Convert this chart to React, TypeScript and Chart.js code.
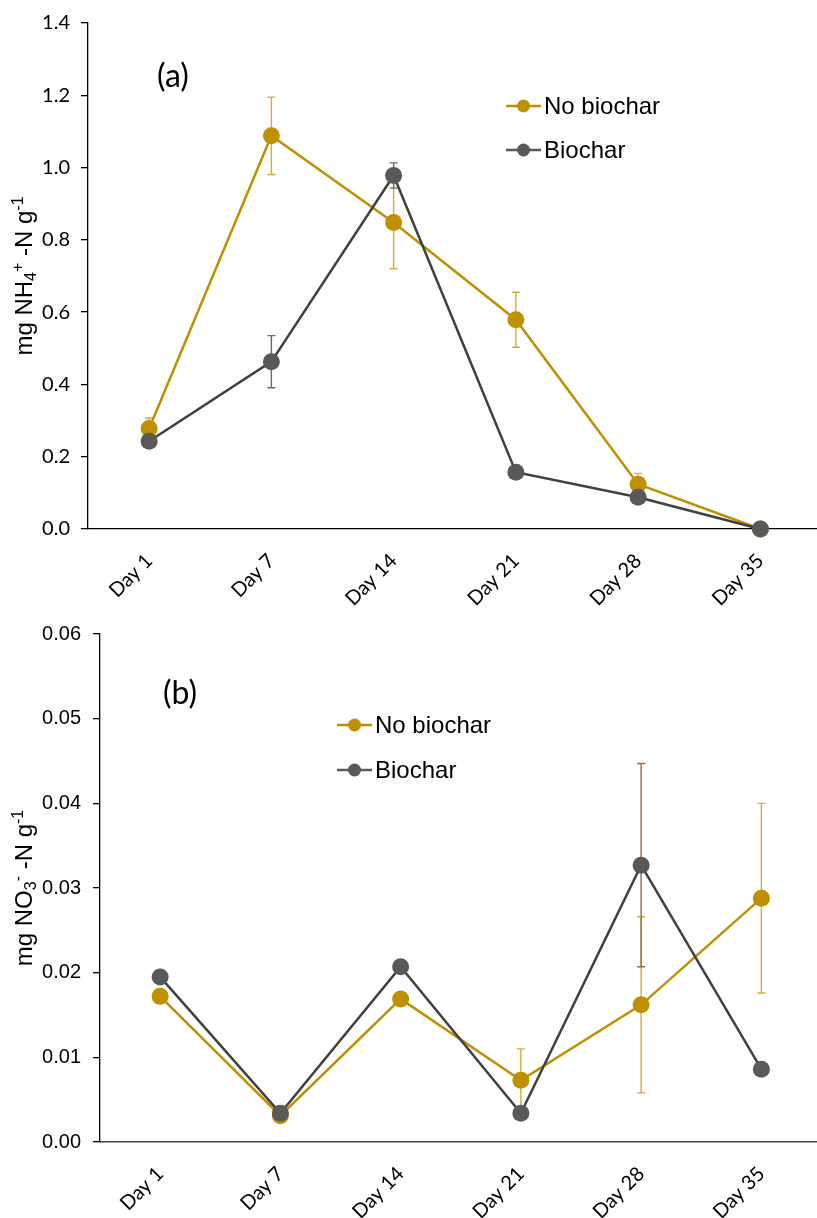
import React, { useEffect, useRef } from 'react';
import { Chart, registerables } from 'chart.js';

Chart.register(...registerables);

// Sampling days shared by both panels
const days = ['Day 1', 'Day 7', 'Day 14', 'Day 21', 'Day 28', 'Day 35'];

// Panel (a): ammonium, mg NH4+-N per g
const nh4NoBiochar = [0.278, 1.088, 0.848, 0.579, 0.124, 0.0];
const nh4NoBiocharErr = [0.029, 0.107, 0.128, 0.076, 0.03, 0];
const nh4Biochar = [0.243, 0.463, 0.978, 0.157, 0.088, 0.0];
const nh4BiocharErr = [0, 0.072, 0.035, 0, 0, 0];
const nh4Ticks = [0, 0.2, 0.4, 0.6, 0.8, 1.0, 1.2, 1.4];

// Panel (b): nitrate, mg NO3--N per g
const no3NoBiochar = [0.0172, 0.0031, 0.0169, 0.0073, 0.0162, 0.0288];
const no3NoBiocharErr = [0, 0, 0, 0.0037, 0.0104, 0.0112];
const no3Biochar = [0.0195, 0.0034, 0.0207, 0.0034, 0.0327, 0.0086];
const no3BiocharErr = [0, 0, 0, 0, 0.012, 0];
const no3Ticks = [0, 0.01, 0.02, 0.03, 0.04, 0.05, 0.06];

const seriesNames = ['No biochar', 'Biochar'];

const GOLD = '#BF9000';
const GOLD_ERR = '#D4AC3A';
const GREY_LINE = '#404040';
const GREY_MARK = '#595959';

type Part = { t: string; k?: 'sub' | 'sup' };

type Series = {
  label: string;
  data: number[];
  err: number[];
  line: string;
  marker: string;
  errColor: string;
};

type PanelSpec = {
  top: number;
  height: number;
  padTop: number;
  axisWidth: number;
  axisHeight: number;
  ticks: number[];
  decimals: number;
  yFont: { family: string; size: number };
  yPadding: number;
  xBorder: { color: string; width: number };
  series: Series[];
  tag: string;
  tagPos: [number, number];
  legendX: number;
  legendY: number[];
  title: Part[];
};

const panels: PanelSpec[] = [
  {
    top: 0,
    height: 610,
    padTop: 21,
    axisWidth: 88,
    axisHeight: 81,
    ticks: nh4Ticks,
    decimals: 1,
    yFont: { family: 'Lato', size: 20 },
    yPadding: 11,
    xBorder: { color: '#000000', width: 1.3 },
    series: [
      { label: seriesNames[0], data: nh4NoBiochar, err: nh4NoBiocharErr, line: GOLD, marker: GOLD, errColor: GOLD_ERR },
      { label: seriesNames[1], data: nh4Biochar, err: nh4BiocharErr, line: GREY_LINE, marker: GREY_MARK, errColor: '#5E7352' },
    ],
    tag: '(a)',
    tagPos: [173, 77],
    legendX: 506,
    legendY: [106, 150],
    title: [{ t: 'mg NH' }, { t: '4', k: 'sub' }, { t: '+', k: 'sup' }, { t: ' -N g' }, { t: '-1', k: 'sup' }],
  },
  {
    top: 610,
    height: 608,
    padTop: 23,
    axisWidth: 100,
    axisHeight: 76,
    ticks: no3Ticks,
    decimals: 2,
    yFont: { family: 'Liberation Sans', size: 20 },
    yPadding: 12,
    xBorder: { color: '#404040', width: 1.6 },
    series: [
      { label: seriesNames[0], data: no3NoBiochar, err: no3NoBiocharErr, line: GOLD, marker: GOLD, errColor: GOLD_ERR },
      { label: seriesNames[1], data: no3Biochar, err: no3BiocharErr, line: GREY_LINE, marker: GREY_MARK, errColor: '#A0673A' },
    ],
    tag: '(b)',
    tagPos: [180, 84],
    legendX: 337,
    legendY: [115, 160],
    title: [{ t: 'mg NO' }, { t: '3', k: 'sub' }, { t: '-', k: 'sup' }, { t: ' -N g' }, { t: '-1', k: 'sup' }],
  },
];

const TITLE_FONT = 'Liberation Sans';

function Panel({ spec }: { spec: PanelSpec }) {
  const ref = useRef<HTMLCanvasElement | null>(null);

  useEffect(() => {
    const canvas = ref.current;
    if (!canvas) return;

    const errorBars = {
      id: 'errorBars',
      beforeDatasetsDraw(chart: any) {
        const { ctx } = chart;
        const x = chart.scales.x;
        const y = chart.scales.y;
        ctx.save();
        spec.series.forEach((s) => {
          s.data.forEach((v, i) => {
            const e = s.err[i];
            if (!e) return;
            const px = x.getPixelForValue(i);
            const yHi = y.getPixelForValue(v + e);
            const yLo = y.getPixelForValue(v - e);
            ctx.strokeStyle = s.errColor;
            ctx.lineWidth = 1.4;
            ctx.beginPath();
            ctx.moveTo(px, yHi);
            ctx.lineTo(px, yLo);
            ctx.moveTo(px - 4, yHi);
            ctx.lineTo(px + 4, yHi);
            ctx.moveTo(px - 4, yLo);
            ctx.lineTo(px + 4, yLo);
            ctx.stroke();
          });
        });
        ctx.restore();
      },
    };

    const decorations = {
      id: 'decorations',
      afterDraw(chart: any) {
        const { ctx, chartArea } = chart;
        ctx.save();

        // panel tag
        ctx.fillStyle = '#000';
        ctx.font = '32px Lato';
        ctx.textAlign = 'center';
        ctx.textBaseline = 'middle';
        ctx.fillText(spec.tag, spec.tagPos[0], spec.tagPos[1]);

        // legend
        ctx.textAlign = 'left';
        ctx.font = `24px "${TITLE_FONT}"`;
        spec.series.forEach((s, i) => {
          const ly = spec.legendY[i];
          const lx = spec.legendX;
          ctx.strokeStyle = s.line === GREY_LINE ? GREY_MARK : s.line;
          ctx.lineWidth = 2.5;
          ctx.beginPath();
          ctx.moveTo(lx, ly);
          ctx.lineTo(lx + 35, ly);
          ctx.stroke();
          ctx.fillStyle = s.marker;
          ctx.beginPath();
          ctx.arc(lx + 17.5, ly, 6.5, 0, Math.PI * 2);
          ctx.fill();
          ctx.fillStyle = '#000';
          ctx.fillText(s.label, lx + 38, ly + 1);
        });

        // rotated y-axis title with sub/superscripts
        const size = 24;
        const small = Math.round(size * 0.65);
        const fontFor = (p: Part) => `${p.k ? small : size}px "${TITLE_FONT}"`;
        let total = 0;
        spec.title.forEach((p) => {
          ctx.font = fontFor(p);
          total += ctx.measureText(p.t).width;
        });
        const cy = (chartArea.top + chartArea.bottom) / 2;
        ctx.translate(32, cy);
        ctx.rotate(-Math.PI / 2);
        ctx.textBaseline = 'alphabetic';
        ctx.textAlign = 'left';
        let cx = -total / 2;
        spec.title.forEach((p) => {
          ctx.font = fontFor(p);
          const dy = p.k === 'sub' ? size * 0.18 : p.k === 'sup' ? -size * 0.38 : 0;
          ctx.fillText(p.t, cx, dy);
          cx += ctx.measureText(p.t).width;
        });
        ctx.restore();
      },
    };

    const n = spec.series.length;
    const chart = new Chart(canvas, {
      type: 'line',
      data: {
        labels: days,
        datasets: spec.series.map((s, i) => ({
          label: s.label,
          data: s.data,
          borderColor: s.line,
          backgroundColor: s.marker,
          pointBackgroundColor: s.marker,
          pointBorderColor: s.marker,
          pointBorderWidth: 0,
          pointRadius: 8.5,
          pointHoverRadius: 8.5,
          borderWidth: 2.5,
          tension: 0,
          fill: false,
          clip: false as any,
          order: n - 1 - i,
        })),
      },
      options: {
        responsive: false,
        animation: false,
        events: [],
        layout: { padding: { top: spec.padTop, right: 3, left: 0, bottom: 0 } },
        plugins: {
          legend: { display: false },
          tooltip: { enabled: false },
        },
        scales: {
          x: {
            type: 'category',
            offset: true,
            grid: { display: false, drawTicks: false },
            border: { display: true, color: spec.xBorder.color, width: spec.xBorder.width },
            ticks: {
              minRotation: 45,
              maxRotation: 45,
              autoSkip: false,
              padding: 20,
              color: '#000',
              font: { family: 'Lato', size: 20 },
            },
            afterFit: (s: any) => {
              s.height = spec.axisHeight;
            },
          },
          y: {
            type: 'linear',
            min: spec.ticks[0],
            max: spec.ticks[spec.ticks.length - 1],
            grid: {
              drawOnChartArea: false,
              drawTicks: true,
              tickLength: 7,
              color: '#000',
              lineWidth: 1.3,
            },
            border: { display: true, color: '#000', width: 1.3 },
            afterBuildTicks: (s: any) => {
              s.ticks = spec.ticks.map((v) => ({ value: v }));
            },
            ticks: {
              padding: spec.yPadding,
              color: '#000',
              font: spec.yFont,
              callback: (v: any) => Number(v).toFixed(spec.decimals),
            },
            afterFit: (s: any) => {
              s.width = spec.axisWidth;
            },
          },
        },
      } as any,
      plugins: [errorBars, decorations],
    });

    return () => chart.destroy();
  }, [spec]);

  return (
    <canvas
      ref={ref}
      width={830}
      height={spec.height}
      style={{ position: 'absolute', left: 0, top: spec.top, display: 'block' }}
    />
  );
}

export default function App() {
  return (
    <div
      style={{
        position: 'absolute',
        left: 0,
        top: 0,
        width: 817,
        height: 1218,
        overflow: 'hidden',
        background: '#ffffff',
      }}
    >
      {panels.map((p) => (
        <Panel key={p.tag} spec={p} />
      ))}
    </div>
  );
}
